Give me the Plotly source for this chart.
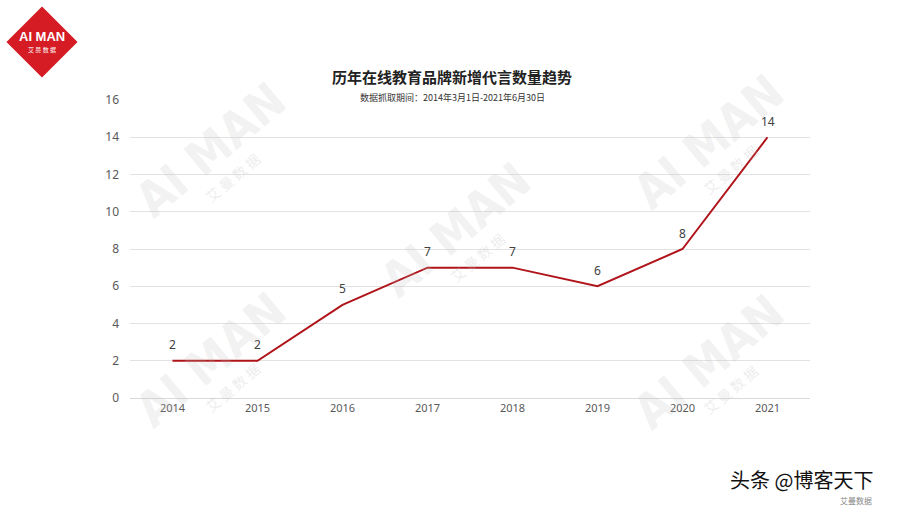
import plotly.graph_objects as go

years = ["2014", "2015", "2016", "2017", "2018", "2019", "2020", "2021"]
counts = [2, 2, 5, 7, 7, 6, 8, 14]
y_ticks = [0, 2, 4, 6, 8, 10, 12, 14, 16]

W, H = 900, 506
L, R, T, B = 130, 90, 100, 108
pw, ph = W - L - R, H - T - B

def px(x):
    return (x - L) / pw

def py(y):
    return (H - B - y) / ph

fig = go.Figure()
fig.add_trace(go.Scatter(
    x=years, y=counts, mode="lines",
    line=dict(color="#B0141A", width=2),
    showlegend=False, hoverinfo="x+y",
))

annotations = []
# data labels
for i, v in enumerate(counts):
    annotations.append(dict(x=i, y=v, xref="x", yref="y", text=str(v), showarrow=False, yshift=16,
                            xanchor="center", yanchor="middle",
                            font=dict(family="Noto Sans, Open Sans, sans-serif", size=12, color="#404040")))

# watermarks
for (wx, wy) in [(210, 150), (708, 142), (455, 230), (210, 360), (708, 362)]:
    annotations.append(dict(x=px(wx), y=py(wy), xref="paper", yref="paper", text="<b>AI MAN</b>",
                            showarrow=False, textangle=-40, xanchor="center", yanchor="middle",
                            font=dict(family="Liberation Sans Narrow, DejaVu Sans Condensed, sans-serif", size=48,
                                      color="rgba(190,190,190,0.2)")))
    annotations.append(dict(x=px(wx + 22), y=py(wy + 28), xref="paper", yref="paper", text="艾 曼 数 据",
                            showarrow=False, textangle=-40, xanchor="center", yanchor="middle",
                            font=dict(family="Noto Sans CJK SC", size=14, color="rgba(190,190,190,0.28)")))

def ann(x, y, text, font):
    return dict(x=px(x), y=py(y), xref="paper", yref="paper", text=text, showarrow=False,
                xanchor="center", yanchor="middle", font=font)

annotations += [
    ann(452, 77, "<b>历年在线教育品牌新增代言数量趋势</b>",
        dict(family="Noto Sans CJK SC", size=15, color="#222222")),
    ann(452, 97, "数据抓取期间：2014年3月1日-2021年6月30日",
        dict(family="Noto Sans CJK SC", size=9, color="#333333")),
    # logo text
    ann(42, 37, "<b>AI MAN</b>", dict(family="Liberation Sans Narrow, sans-serif", size=13, color="white")),
    ann(42, 50, "艾 曼 数 据", dict(family="Noto Sans CJK SC", size=6, color="white")),
    # bottom right watermark
    ann(856, 500, "艾曼数据", dict(family="Noto Sans CJK SC", size=8, color="#8A8A8A")),
    ann(801, 479, "头条 @博客天下", dict(family="Noto Sans CJK SC", size=20, color="#111111")),
]

shapes = [
    dict(type="path", xref="paper", yref="paper",
         path=f"M {px(42)} {py(10)} L {px(74)} {py(42)} L {px(42)} {py(74)} L {px(10)} {py(42)} Z",
         fillcolor="#D51C24", line=dict(color="#D51C24", width=5), layer="above"),
]

fig.update_layout(
    width=W, height=H,
    margin=dict(l=L, r=R, t=T, b=B, autoexpand=False),
    paper_bgcolor="white", plot_bgcolor="white",
    xaxis=dict(type="category", showgrid=False, showline=True, linecolor="#D9D9D9",
               ticks="", tickfont=dict(family="Noto Sans, sans-serif", size=11, color="#595959"),
               range=[-0.5, 7.5], automargin=False),
    yaxis=dict(range=[0, 16], tickvals=y_ticks, showgrid=True, gridcolor="#E2E2E2",
               zeroline=False, showline=False, ticks="",
               tickfont=dict(family="Noto Sans, sans-serif", size=12, color="#595959"),
               ticklabelstandoff=10, automargin=False),
    annotations=annotations,
    shapes=shapes,
)

fig.write_html("out.html", config={"displayModeBar": False},
               post_script="document.body.style.margin='0';document.body.style.overflow='hidden';")
